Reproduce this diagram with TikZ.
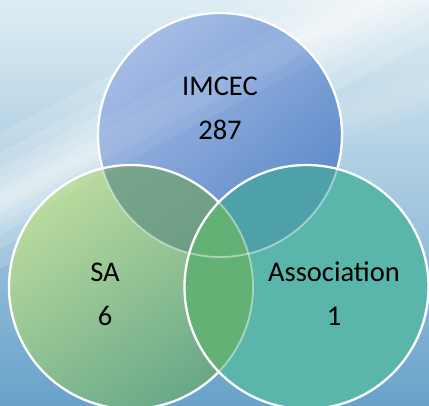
\documentclass[tikz,border=0pt]{standalone}
\usepackage{fontspec}
\setmainfont{Carlito}
\definecolor{bgtop}{RGB}{222,237,243}
\definecolor{bgbot}{RGB}{104,162,202}
\definecolor{topA}{RGB}{166,188,230}
\definecolor{topB}{RGB}{90,136,200}
\definecolor{saA}{RGB}{186,219,158}
\definecolor{saB}{RGB}{104,168,136}
\definecolor{asA}{RGB}{90,182,170}
\definecolor{topsaA}{RGB}{128,170,146}
\definecolor{topsaB}{RGB}{106,154,132}
\definecolor{topas}{RGB}{78,161,168}
\definecolor{saas}{RGB}{100,177,118}
\begin{document}
\begin{tikzpicture}[x=1pt,y=1pt,
  ring/.style={draw=white, line width=2.3pt},
  pale/.style={draw=white, draw opacity=0.45, line width=1.8pt},
  txt/.style={font=\fontsize{28.5}{34}\selectfont, text=black, anchor=base, inner sep=0pt}]
\useasboundingbox (0,0) rectangle (429,405);
% background
\shade[top color=bgtop, bottom color=bgbot] (0,0) rectangle (429,405);
\begin{scope}
  \clip (0,0) rectangle (429,405);
  \foreach \w in {120,85,60,40,22,10}
    \fill[white, opacity=0.15, rotate around={28:(190,305)}] (-200,{305-\w/2}) rectangle (600,{305+\w/2});
  \foreach \w in {40,20}
    \fill[white, opacity=0.08, rotate around={18:(380,300)}] (150,{300-\w/2}) rectangle (600,{300+\w/2});
\end{scope}
\coordinate (cT) at (220,270);
\coordinate (cS) at (131,118);
\coordinate (cA) at (306.5,118);
\def\R{122pt}
% top circle
\shade[top color=topA, bottom color=topB, shading angle=40] (cT) circle (\R);
\draw[ring] (cT) circle (\R);
% SA circle
\shade[top color=saA, bottom color=saB, shading angle=35] (cS) circle (\R);
\begin{scope}
  \clip (cS) circle (\R);
  \shade[top color=topsaA, bottom color=topsaB, shading angle=35] (cT) circle (\R);
  \draw[pale] (cT) circle (\R);
\end{scope}
\draw[ring] (cS) circle (\R);
% Association circle
\fill[asA] (cA) circle (\R);
\begin{scope}
  \clip (cA) circle (\R);
  \fill[topas] (cT) circle (\R);
  \fill[saas] (cS) circle (\R);
  \draw[pale] (cT) circle (\R);
  \draw[pale] (cS) circle (\R);
\end{scope}
\draw[ring] (cA) circle (\R);
% faint streak over circles
\begin{scope}
  \clip (0,0) rectangle (429,405);
  \foreach \w in {50,25}
    \fill[white, opacity=0.06, rotate around={28:(190,305)}] (-200,{305-\w/2}) rectangle (600,{305+\w/2});
\end{scope}
% texts
\node[txt] (imcec) at (220,309) {IMCEC};
\node[txt] (n287) at (220,265) {287};
\node[txt] (sa) at (105,123) {SA};
\node[txt] (n6) at (105,80) {6};
\node[txt] (assoc) at (334,123) {Association};
\node[txt] (n1) at (334,80) {1};
\end{tikzpicture}
\end{document}
